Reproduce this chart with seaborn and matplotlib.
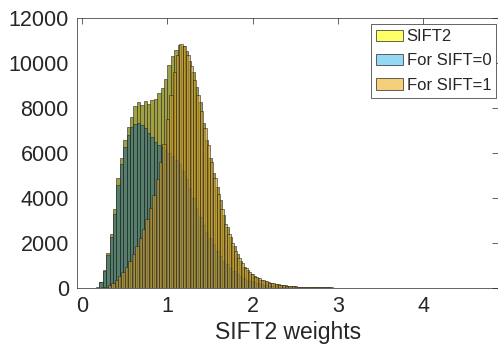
import numpy as np
import pandas as pd
import seaborn as sns
import matplotlib.pyplot as plt

# histogram counts, bins of 0.04 wide
bin_w = 0.04
total_start = 0.16   # first edge of the SIFT2 / SIFT=0 bins
sift1_start = 0.18   # SIFT=1 bins are offset by half a bin

sift2_counts = [20, 250, 800, 1550, 2400, 3500, 4900, 5800, 6600, 7150,
                7600, 8100, 8250, 8150, 8300, 8200, 8350, 8400, 8650, 8900,
                9300, 9900, 10300, 10600, 10800, 10750, 10550, 10100, 9600, 8950,
                8250, 7350, 6600, 5800, 5100, 4500, 3900, 3250, 2700, 2250,
                1850, 1500, 1200, 950, 780, 640, 530, 440, 370, 310,
                260, 220, 185, 155, 130, 110, 95, 80, 68, 58,
                50, 44, 38, 34, 30, 27, 24, 22, 20, 18, 16]
sift0_counts = [10, 250, 750, 1450, 2250, 3300, 4600, 5500, 6250, 6800,
                7150, 7300, 7350, 7250, 7100, 6900, 6700, 6500, 6350, 6250,
                6150, 6000, 5850, 5700, 5500, 5200, 4850, 4450, 4000, 3550,
                3150, 2800, 2500, 2200, 1950, 1650, 1400, 1200, 1050, 880,
                750, 630, 530, 440, 370, 310, 260, 210, 170, 140,
                110, 90, 70, 55, 45, 35, 28, 22, 18, 14,
                11, 9, 7, 5, 4, 3, 2, 2, 1, 1, 0]
sift1_counts = [0, 20, 60, 130, 230, 360, 520, 700, 920, 1200,
                1500, 1850, 2200, 2600, 3050, 3550, 4150, 4850, 5600, 6400,
                7500, 8600, 9600, 10350, 10850, 10750, 10350, 9850, 9250, 8600,
                7850, 7100, 6350, 5600, 4900, 4200, 3500, 2850, 2400, 2000,
                1650, 1350, 1100, 880, 720, 600, 500, 420, 350, 290,
                240, 200, 170, 140, 120, 100, 85, 72, 60, 52,
                45, 40, 35, 31, 28, 25, 23, 21, 19, 17, 15]
# long, almost empty tail from 3 up to 4.7
tail_counts = [15, 14, 12, 12, 10, 10, 9, 8, 8, 7, 7, 6, 6, 6, 5, 5, 5, 4, 4, 4, 4,
               3, 3, 3, 3, 3, 2, 2, 2, 2, 2, 2, 2, 1, 1, 1, 1, 1, 1, 1, 1, 1, 1]

series_names = ['SIFT2', 'For SIFT=0', 'For SIFT=1']
# legend swatches (matlab colours at FaceAlpha 0.6)
legend_colors = [(1.0, 1.0, 0.0, 0.6), (0.301, 0.745, 0.933, 0.6), (0.929, 0.694, 0.125, 0.6)]
# bar faces as they look in the dense, edge-heavy matlab render
bar_colors = [(0.63, 0.63, 0.25, 1.0), (0.14, 0.41, 0.53, 0.6), (0.80, 0.60, 0.14, 0.6)]

sift2_all = sift2_counts + tail_counts
sift0_all = sift0_counts + [0] * len(tail_counts)
sift1_all = sift1_counts + tail_counts

edge_col = (0.15, 0.15, 0.15, 1.0)


def edges_for(start, n):
    return start + bin_w * np.arange(n + 1)


sns.set_style('white')
plt.rcParams['font.family'] = ['Liberation Sans', 'DejaVu Sans']

fig = plt.figure(figsize=(4.98, 3.49), dpi=100)
ax = fig.add_axes([0.155, 0.175, 0.845, 0.773])

for counts, start, name, col in zip([sift2_all, sift0_all, sift1_all],
                                    [total_start, total_start, sift1_start],
                                    series_names, bar_colors):
    edges = edges_for(start, len(counts))
    df = pd.DataFrame({'weight': (edges[:-1] + edges[1:]) / 2,
                       'count': np.array(counts, dtype=float)})
    n_before = len(ax.patches)
    sns.histplot(data=df, x='weight', weights='count', bins=list(edges), color=col[:3],
                 edgecolor=edge_col, linewidth=0.4, label=name, ax=ax)
    for p in ax.patches[n_before:]:
        p.set_alpha(None)
        p.set_facecolor(col)
        p.set_edgecolor(edge_col)

ax.set_xlim(-0.06, 4.88)
ax.set_ylim(0, 12000)
ax.set_xticks([0, 1, 2, 3, 4])
ax.set_yticks(np.arange(0, 12001, 2000))
ax.set_xlabel('SIFT2 weights', fontsize=16.5, color=(0.15, 0.15, 0.15), labelpad=3)
ax.set_ylabel('')
ax.tick_params(direction='in', length=4, width=0.5, top=True, right=True,
               labelsize=15.5, colors=(0.15, 0.15, 0.15), pad=6)
for sp in ax.spines.values():
    sp.set_linewidth(0.5)
    sp.set_color((0.15, 0.15, 0.15))

leg = ax.legend(loc='upper right', bbox_to_anchor=(1.004, 0.99), fontsize=12,
                fancybox=False, framealpha=1, edgecolor=(0.15, 0.15, 0.15),
                handlelength=1.6, labelspacing=0.55, handletextpad=0.25,
                borderaxespad=0.2, borderpad=0.3)
leg.get_frame().set_linewidth(0.5)
for h, col in zip(leg.legend_handles, legend_colors):
    h.set_linewidth(0.5)
    h.set_alpha(None)
    h.set_facecolor(col)
    h.set_edgecolor(edge_col)

plt.savefig('out.png', dpi=100)
